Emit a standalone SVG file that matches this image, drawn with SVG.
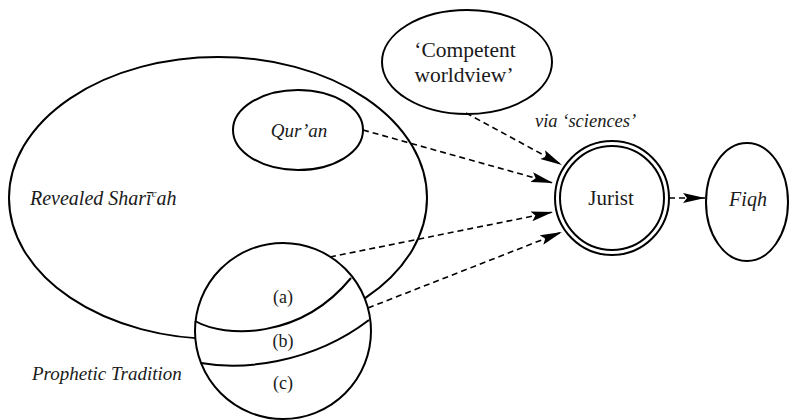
<svg xmlns="http://www.w3.org/2000/svg" width="789" height="420" viewBox="0 0 789 420">
<defs>
<style>
.shape{fill:none;stroke:#000;stroke-width:2}
.conn{fill:none;stroke:#000;stroke-width:1.6;stroke-dasharray:6 4}
text{font-family:"Liberation Serif","Times New Roman",serif;fill:#1a1a1a;font-size:19px}
.it{font-style:italic}
.mid{text-anchor:middle}
</style>
<marker id="arr" viewBox="0 0 22 10" refX="22" refY="5" markerWidth="22" markerHeight="10" markerUnits="userSpaceOnUse" orient="auto">
<path d="M0,0 L22,5 L0,10 L4,5 z" fill="#000"/>
</marker>
</defs>
<rect width="789" height="420" fill="#fff"/>
<g id="revealed-shariah">
<ellipse class="shape" cx="218" cy="198" rx="209" ry="141"/>
<text class="it" x="30" y="205" style="font-size:20px">Revealed Sharī<tspan style="font-size:11px" dy="-8">c</tspan><tspan dy="8">ah</tspan></text>
</g>
<g id="quran">
<ellipse class="shape" cx="298" cy="130" rx="65" ry="40"/>
<text class="it mid" x="299" y="137">Qur’an</text>
</g>
<g id="prophetic-tradition">
<circle cx="283" cy="331" r="88" fill="#fff" stroke="#000" stroke-width="2"/>
<path class="shape" d="M195,321 C225,338 300,340 351,278"/>
<path class="shape" d="M201,363 C240,370 310,365 369,320"/>
<text class="mid" x="283" y="303" style="font-size:18px">(a)</text>
<text class="mid" x="283" y="347" style="font-size:18px">(b)</text>
<text class="mid" x="283" y="389" style="font-size:18px">(c)</text>
<text class="it" x="32" y="380">Prophetic Tradition</text>
</g>
<g id="competent-worldview">
<ellipse class="shape" cx="467" cy="62" rx="85" ry="52"/>
<text class="mid" x="465" y="57" style="font-size:21.5px">‘Competent</text>
<text class="mid" x="464" y="82" style="font-size:21.5px">worldview’</text>
</g>
<g id="jurist">
<circle class="shape" cx="612" cy="198" r="57"/>
<circle class="shape" cx="612" cy="198" r="52"/>
<text class="mid" x="611" y="205" style="font-size:21px">Jurist</text>
</g>
<g id="fiqh">
<ellipse class="shape" cx="747" cy="202" rx="41" ry="59"/>
<text class="it mid" x="748" y="206" style="font-size:20px">Fiqh</text>
</g>
<g id="connectors">
<path class="conn" d="M466,113 L562,165" marker-end="url(#arr)"/>
<path class="conn" d="M363,130 L553,183" marker-end="url(#arr)"/>
<path class="conn" d="M330,257 L553,212" marker-end="url(#arr)"/>
<path class="conn" d="M368,308 L562,232" marker-end="url(#arr)"/>
<path class="conn" d="M669,198 L705,198" marker-end="url(#arr)"/>
<text class="it" x="535" y="127" style="font-size:18.5px">via ‘sciences’</text>
</g>
</svg>
